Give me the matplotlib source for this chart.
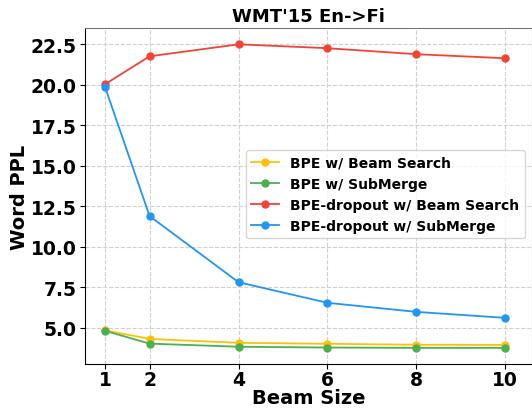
import numpy as np
import matplotlib.pyplot as plt

beam = [1, 2, 4, 6, 8, 10]
bpe_beam = [4.85, 4.32, 4.08, 4.02, 3.96, 3.95]
bpe_sub = [4.82, 4.03, 3.84, 3.79, 3.77, 3.77]
drop_beam = [20.04, 21.76, 22.5, 22.26, 21.89, 21.64]
drop_sub = [19.85, 11.9, 7.82, 6.55, 5.99, 5.62]

labels = ['BPE w/ Beam Search', 'BPE w/ SubMerge',
          'BPE-dropout w/ Beam Search', 'BPE-dropout w/ SubMerge']
colors = ['#FFC107', '#4CAF50', '#F44336', '#2196F3']

fig = plt.figure(figsize=(5.32, 4.10), dpi=100)
ax = fig.add_axes([0.16, 0.11, 0.84, 0.819])

for ys, lab, c in zip([bpe_beam, bpe_sub, drop_beam, drop_sub], labels, colors):
    ax.plot(beam, ys, color=c, marker='o', markersize=5, linewidth=1.3, label=lab)

ax.set_xticks(beam)
ax.set_xlim(0.55, 10.6)
ax.set_ylim(2.78, 23.5)
ax.set_yticks([5.0, 7.5, 10.0, 12.5, 15.0, 17.5, 20.0, 22.5])
ax.grid(True, linestyle='--', color='#d0d0d0', linewidth=0.8)
ax.tick_params(axis='x', pad=1)
ax.tick_params(axis='y', pad=2.5)
for lbl in ax.get_xticklabels() + ax.get_yticklabels():
    lbl.set_fontweight('bold')
    lbl.set_fontsize(13.5)
ax.set_xlabel('Beam Size', fontsize=14, fontweight='bold', labelpad=-1)
ax.set_ylabel('Word PPL', fontsize=14, fontweight='bold', labelpad=1)
ax.set_title("WMT'15 En->Fi", fontsize=13, fontweight='bold', pad=5)
ax.spines['top'].set_color('#777777')
ax.spines['right'].set_color('#777777')

ax.legend(loc='center right', bbox_to_anchor=(1.0, 0.505),
          prop={'weight': 'bold', 'size': 10})

fig.savefig('out.png', dpi=100)
